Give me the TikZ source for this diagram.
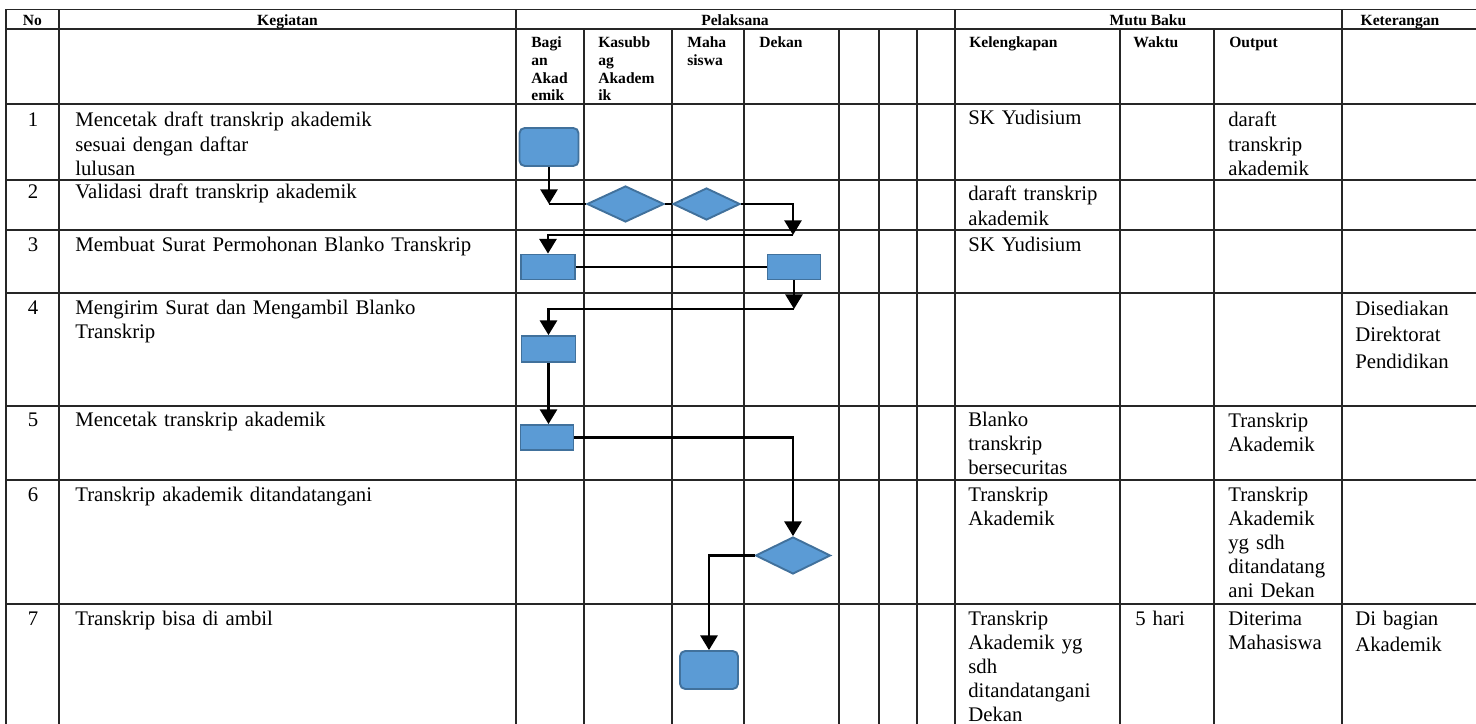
\documentclass[tikz,border=0pt]{standalone}
\usepackage{fontspec}
\setmainfont{Liberation Serif}
\usetikzlibrary{arrows.meta,shapes.geometric}
\newdimen\px \px=0.578pt
\definecolor{boxfill}{HTML}{5B9BD5}
\definecolor{boxline}{HTML}{41719C}
\tikzset{
  grid/.style={draw=black!85, line width=0.75pt},
  hd/.style={inner sep=0pt, font=\bfseries\fontsize{9}{10.2}\selectfont},
  sub/.style={inner sep=0pt, anchor=base west, align=left, text width=80\px, font=\bfseries\fontsize{9}{10.2}\selectfont},
  txt/.style={inner sep=0pt, anchor=base west, align=left, text width=#1\px, font=\fontsize{12}{13.9}\selectfont},
  txt/.default=150,
  wtxt/.style={inner sep=0pt, anchor=base west, align=left, text width=#1\px, font=\fontsize{12}{15.6}\selectfont},
  num/.style={inner sep=0pt, anchor=base, font=\fontsize{12}{13.9}\selectfont},
  procbox/.style={draw=boxline, fill=boxfill, line width=1.1pt, inner sep=0pt},
  termbox/.style={procbox, rounded corners=3pt},
  decbox/.style={procbox, shape=diamond},
  arr/.style={draw=black, line width=1.2pt, -{Triangle[width=10pt,length=8.5pt]}},
  ln/.style={draw=black, line width=0.8pt},
}
\begin{document}
\begin{tikzpicture}[x=0.578pt, y=-0.578pt]
\useasboundingbox (0,0) rectangle (1476,724);
\clip (0,0) rectangle (1476,724);
\fill[white] (0,0) rectangle (1476,724);
% table grid
\foreach \y in {9.5,29,104,180,230,293,406,480,604} \draw[grid] (6,\y) -- (1476,\y);
\foreach \x in {6,59,516,955,1342} \draw[grid] (\x,9.5) -- (\x,724);
\foreach \x in {584,672,744,839,879,917,1120,1214} \draw[grid] (\x,29) -- (\x,724);
% header
\node[hd, anchor=base] (hno) at (32.5,26) {No};
\node[hd, anchor=base] (hkeg) at (287.5,26) {Kegiatan};
\node[hd, anchor=base] (hpel) at (735,26) {Pelaksana};
\node[hd, anchor=base] (hmutu) at (1148,26) {Mutu Baku};
\node[hd, anchor=base] (hket) at (1400,26) {Keterangan};
\node[sub] (hbag) at (531,48) {Bagi\\an\\Akad\\emik};
\node[sub] (hkas) at (598,48) {Kasubb\\ag\\Akadem\\ik};
\node[sub] (hmah) at (687,48) {Maha\\siswa};
\node[sub] (hdek) at (759,48) {Dekan};
\node[sub] (hkel) at (969,48) {Kelengkapan};
\node[sub] (hwak) at (1133,48) {Waktu};
\node[sub] (hout) at (1229,48) {Output};
% numbers
\node[num] (n1) at (33,127) {1};
\node[num] (n2) at (33,199) {2};
\node[num] (n3) at (33,251) {3};
\node[num] (n4) at (33,314) {4};
\node[num] (n5) at (33,426) {5};
\node[num] (n6) at (33,501) {6};
\node[num] (n7) at (33,625) {7};
% kegiatan
\node[txt=430] (k1) at (75,127) {Mencetak draft transkrip akademik\\sesuai dengan daftar\\lulusan};
\node[txt=430] (k2) at (75,199) {Validasi draft transkrip akademik};
\node[txt=430] (k3) at (75,251) {Membuat Surat Permohonan Blanko Transkrip};
\node[txt=430] (k4) at (75,314) {Mengirim Surat dan Mengambil Blanko\\Transkrip};
\node[txt=430] (k5) at (75,426) {Mencetak transkrip akademik};
\node[txt=430] (k6) at (75,501) {Transkrip akademik ditandatangani};
\node[txt=430] (k7) at (75,625) {Transkrip bisa di ambil};
% kelengkapan
\node[txt] (l1) at (968,125) {SK Yudisium};
\node[txt] (l2) at (968,201) {daraft transkrip\\akademik};
\node[txt] (l3) at (968,251) {SK Yudisium};
\node[txt] (l5) at (968,426) {Blanko\\transkrip\\bersecuritas};
\node[txt] (l6) at (968,501) {Transkrip\\Akademik};
\node[txt] (l7) at (968,625) {Transkrip\\Akademik yg\\sdh\\ditandatangani\\Dekan};
% waktu
\node[txt=80] (w7) at (1135,625) {5 hari};
% output
\node[txt=110] (o1) at (1228,127) {daraft\\transkrip\\akademik};
\node[txt=110] (o5) at (1228,427) {Transkrip\\Akademik};
\node[txt=110] (o6) at (1228,501) {Transkrip\\Akademik\\yg sdh\\ditandatang\\ani Dekan};
\node[txt=110] (o7) at (1228,625) {Diterima\\Mahasiswa};
% keterangan
\node[wtxt=120] (e4) at (1355,315) {Disediakan\\Direktorat\\Pendidikan};
\node[wtxt=120] (e7) at (1355,625) {Di bagian\\Akademik};
% flow shapes
\node[termbox, minimum width=59\px, minimum height=38\px] (r1) at (549,147) {};
\node[decbox, minimum width=77\px, minimum height=36\px] (d1) at (625.5,204) {};
\node[decbox, minimum width=67\px, minimum height=32\px] (d2) at (706.5,204) {};
\node[procbox, minimum width=54\px, minimum height=25\px] (r2) at (548,267) {};
\node[procbox, minimum width=53\px, minimum height=25\px] (r3) at (794,267) {};
\node[procbox, minimum width=54\px, minimum height=26\px] (r4) at (548.5,349) {};
\node[procbox, minimum width=53\px, minimum height=25\px] (r5) at (547,437.5) {};
\node[decbox, minimum width=75\px, minimum height=37\px] (d3) at (793,555.5) {};
\node[termbox, minimum width=58\px, minimum height=38\px] (r6) at (709,670) {};
% connector waypoints
\coordinate (c1) at (549,204);
\coordinate (c2) at (793,235);
\coordinate (c3) at (794,309);
% connectors
\draw[arr] (r1.south) -- (c1);
\draw[ln] (c1) -- (d1.west);
\draw[ln] (d1.east) -- (d2.west);
\draw[arr] (d2.east) -| (c2);
\draw[arr] (c2) -| (r2.north);
\draw[ln] (r2.east) -- (r3.west);
\draw[arr] (r3.south) -- (c3);
\draw[arr] (c3) -| (r4.north);
\draw[arr] (r4.south) -- (r4.south |- r5.north);
\draw[arr] (r5.east) -| (d3.north);
\draw[arr] (d3.west) -| (r6.north);
\end{tikzpicture}
\end{document}
